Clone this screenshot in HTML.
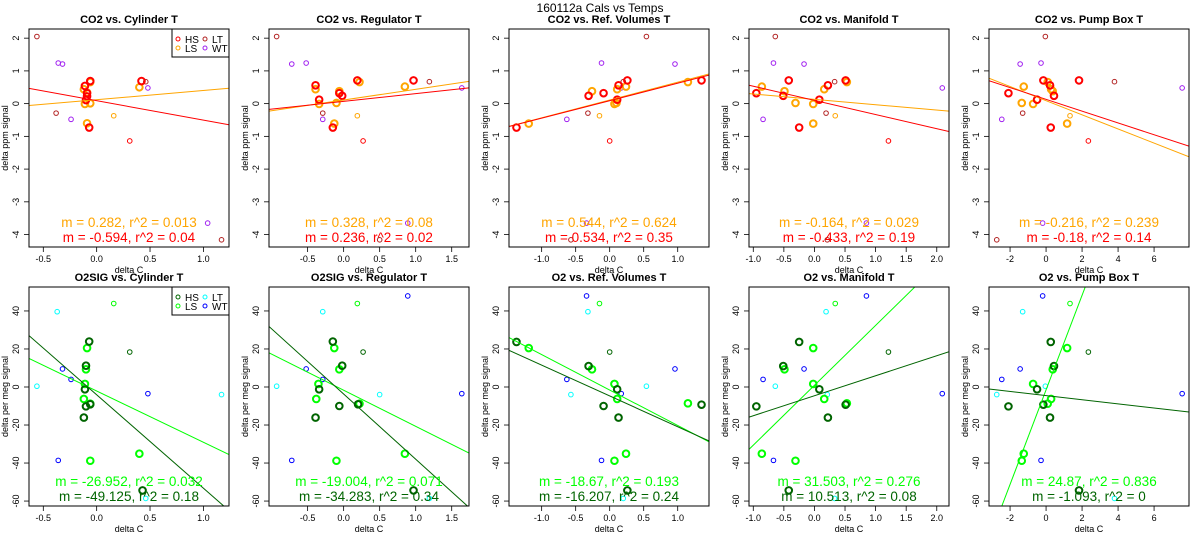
<!DOCTYPE html>
<html><head><meta charset="utf-8"><style>
body{margin:0;background:#fff;}
svg{display:block;font-family:"Liberation Sans",sans-serif;}
</style></head><body>
<svg id="chart" width="1200" height="550" viewBox="0 0 1200 550" xmlns="http://www.w3.org/2000/svg">
<rect x="0" y="0" width="1200" height="550" fill="#fff"/>
<text x="600" y="12" text-anchor="middle" font-size="12">160112a   Cals vs Temps</text>
</svg>
<script>
const titles = ["CO2 vs. Cylinder T","CO2 vs. Regulator T","CO2 vs. Ref. Volumes T","CO2 vs. Manifold T","CO2 vs. Pump Box T",
"O2SIG vs. Cylinder T","O2SIG vs. Regulator T","O2 vs. Ref. Volumes T","O2 vs. Manifold T","O2 vs. Pump Box T"];
const xRanges = [[-0.634,1.24],[-1.036,1.74],[-1.48,1.46],[-1.07,2.2],[-3.17,7.94]];
const xTicks = [[-0.5,0,0.5,1.0],[-0.5,0,0.5,1.0,1.5],[-1.0,-0.5,0,0.5,1.0],[-1.0,-0.5,0,0.5,1.0,1.5,2.0],[-2,0,2,4,6]];
const xTickLabels = [["-0.5","0.0","0.5","1.0"],["-0.5","0.0","0.5","1.0","1.5"],["-1.0","-0.5","0.0","0.5","1.0"],["-1.0","-0.5","0.0","0.5","1.0","1.5","2.0"],["-2","0","2","4","6"]];
const yRangeTop = [-4.38,2.28];
const yRangeBottom = [-62.6,52.6];
const yTicksTop = [-4,-3,-2,-1,0,1,2];
const yTicksBottom = [-60,-40,-20,0,20,40];

const hsX = [
[-0.11,-0.06,0.42,-0.09,-0.09,-0.10,-0.07],
[-0.39,-0.34,-0.15,-0.06,-0.02,0.19,0.97],
[-1.37,-0.31,-0.09,0.11,0.13,0.26,1.35],
[-0.95,-0.51,-0.42,-0.25,0.08,0.22,0.51],
[-2.09,-0.5,-0.15,0.22,0.44,0.26,1.83],
[-0.07,-0.10,-0.11,-0.06,-0.10,-0.12,0.43],
[-0.15,-0.02,-0.34,0.20,-0.06,-0.39,0.97],
[-1.37,-0.31,0.11,1.35,-0.09,0.13,0.26],
[-0.95,-0.51,-0.25,0.08,0.22,0.51,-0.42],
[-2.09,-0.5,-0.15,0.22,0.44,0.26,1.83]];
const hsY = [
[0.54,0.69,0.69,0.32,0.22,0.11,-0.73],
[0.56,0.12,-0.73,0.32,0.24,0.71,0.71],
[-0.73,0.24,0.32,0.12,0.56,0.71,0.71],
[0.32,0.24,0.71,-0.73,0.12,0.56,0.71],
[0.32,0.12,0.71,0.56,0.24,-0.73,0.71],
[23.9,11.2,-1.2,-9.1,-10.2,-16.1,-54.4],
[23.9,11.2,-1.2,-9.1,-10.0,-16.1,-54.4],
[23.7,11,-1.2,-9.3,-10,-16.1,-54.4],
[-10.2,11,23.7,-1.2,-16.1,-9.3,-54.4],
[-10.2,-1.2,-9.3,-16.1,11,23.7,-54.4]];
const lsX = [
[-0.06,-0.12,-0.09,0.40,-0.11,-0.06,-0.09],
[-0.39,-0.34,-0.10,-0.06,0.22,0.85,-0.13],
[-1.19,-0.26,0.07,0.11,0.24,1.15,0.10],
[-0.86,-0.49,-0.31,-0.02,-0.02,0.16,0.53],
[-1.24,-1.35,-0.72,0.09,0.28,0.37,1.17],
[-0.09,-0.10,-0.11,-0.12,-0.06,0.40,-0.06],
[-0.13,-0.06,-0.35,-0.38,0.22,0.85,-0.10],
[-1.19,-0.26,0.07,0.11,1.15,0.24,0.07],
[-0.02,-0.49,-0.02,0.16,0.53,-0.86,-0.31],
[1.17,0.37,-0.72,0.28,0.09,-1.24,-1.35]];
const lsY = [
[0.66,0.44,0.34,0.50,-0.01,0.01,-0.60],
[0.44,-0.01,0.02,0.38,0.66,0.52,-0.61],
[-0.61,0.38,-0.01,0.44,0.52,0.66,0.02],
[0.52,0.38,0.02,-0.01,-0.61,0.44,0.66],
[0.52,0.02,-0.01,0.66,0.44,0.38,-0.61],
[20.5,9.3,1.6,-6.3,-8.8,-35.1,-38.8],
[20.5,9.3,1.6,-6.3,-8.8,-35.1,-38.8],
[20.5,9.3,1.6,-6.3,-8.6,-35.1,-38.8],
[20.5,9.3,1.6,-6.3,-8.6,-35.1,-38.8],
[20.5,9.3,1.6,-6.3,-8.8,-35.1,-38.8]];
const ltX = [
[-0.56,-0.38,0.46,1.17],[-0.93,-0.29,1.19,0.50],[0.54,-0.32,0.2,-0.57],[-0.64,0.19,0.33,0.21],[-0.04,-1.3,3.8,-2.74],
[-0.56,-0.37,0.46,1.17],[-0.93,-0.29,1.19,0.5],[0.54,-0.32,0.2,-0.57],[-0.64,0.19,0.33,0.21],[-0.04,-1.3,3.8,-2.74]];
const ltYTop = [2.05,-0.29,0.67,-4.16];
const ltYBottom = [0.4,39.6,-58.6,-4];
const wtX = [
[-0.36,-0.32,-0.24,0.48,1.04],[-0.52,-0.72,-0.29,1.64,0.89],[-0.12,0.96,-0.63,0.17,-0.34],[-0.67,-0.17,-0.84,2.09,0.85],[-0.28,-1.44,-2.46,7.56,-0.19],
[-0.36,-0.32,-0.24,0.48,null],[-0.72,-0.52,-0.29,1.64,0.89],[-0.12,0.96,-0.63,0.17,-0.34],[-0.67,-0.17,-0.84,2.09,0.85],[-0.28,-1.44,-2.46,7.56,-0.19]];
const wtYTop = [1.24,1.21,-0.48,0.48,-3.65];
const wtYBottom = [-38.6,9.5,4,-3.5,47.9];
const smallHsX = [0.31,0.27,0.0,1.21,2.35];
const smallLsX = [0.16,0.19,-0.15,0.34,1.33];
const smallHsY = [-1.14,18.4];
const smallLsY = [-0.37,43.9];
const hsSlope = [-0.594,0.236,0.534,-0.433,-0.18,-49.125,-34.283,-16.207,10.513,-1.093];
const hsIntercept = [0.09,0.07,0.09,0.10,0.13,-4.1,-3.7,-4.7,-4.6,-4.5];
const lsSlope = [0.282,0.328,0.544,-0.164,-0.216,-26.952,-19.004,-18.67,31.503,24.87];
const lsIntercept = [0.12,0.11,0.11,0.13,0.09,-2.1,-1.7,-1.6,0.9,-1.5];
const lsLabels = ["m = 0.282, r^2 = 0.013","m = 0.328, r^2 = 0.08","m = 0.544, r^2 = 0.624","m = -0.164, r^2 = 0.029","m = -0.216, r^2 = 0.239",
"m = -26.952, r^2 = 0.032","m = -19.004, r^2 = 0.071","m = -18.67, r^2 = 0.193","m = 31.503, r^2 = 0.276","m = 24.87, r^2 = 0.836"];
const hsLabels = ["m = -0.594, r^2 = 0.04","m = 0.236, r^2 = 0.02","m = 0.534, r^2 = 0.35","m = -0.433, r^2 = 0.19","m = -0.18, r^2 = 0.14",
"m = -49.125, r^2 = 0.18","m = -34.283, r^2 = 0.34","m = -16.207, r^2 = 0.24","m = 10.513, r^2 = 0.08","m = -1.093, r^2 = 0"];

const NS = "http://www.w3.org/2000/svg";
const svg = document.getElementById('chart');
function mk(tag, attrs, parent){const e=document.createElementNS(NS,tag);for(const k in attrs)e.setAttribute(k,attrs[k]);(parent||svg).appendChild(e);return e;}

for(let p=0;p<10;p++){
  const col=p%5, bottom=p>=5;
  const L=240*col+29, R=L+200;
  const T=bottom?287:29, B=bottom?506:247;
  const xr=xRanges[col], yr=bottom?yRangeBottom:yRangeTop;
  const sx=v=>L+(v-xr[0])/(xr[1]-xr[0])*(R-L);
  const sy=v=>B-(v-yr[0])/(yr[1]-yr[0])*(B-T);
  const g=mk('g',{});
  
  
  const cp=mk('clipPath',{id:'cp'+p},g); mk('rect',{x:L,y:T,width:R-L,height:B-T},cp);
  const t=mk('text',{x:(L+R)/2,y:T-6,'text-anchor':'middle','font-size':11,'font-weight':'bold'},g); t.textContent=titles[p];
  
  
  // y axis
  const yt=bottom?yTicksBottom:yTicksTop;
  yt.forEach(v=>{mk('line',{x1:L-5,x2:L,y1:sy(v),y2:sy(v),stroke:'#000','stroke-width':0.8},g);
    const tl=mk('text',{x:0,y:0,'text-anchor':'middle','font-size':9,transform:`translate(${L-10},${sy(v)}) rotate(-90)`},g);tl.textContent=String(v);
    
    });
  const ya=mk('text',{x:0,y:0,'text-anchor':'middle','font-size':9,transform:`translate(${L-21},${(T+B)/2}) rotate(-90)`},g);
  ya.textContent=bottom?'delta per meg signal':'delta ppm signal';
  
  
  xTicks[col].forEach((v,i)=>{mk('line',{x1:sx(v),x2:sx(v),y1:B,y2:B+5,stroke:'#000','stroke-width':0.8},g);
    const tl=mk('text',{x:sx(v),y:B+15,'text-anchor':'middle','font-size':9},g);tl.textContent=xTickLabels[col][i];
    
    });
  const xa=mk('text',{x:(L+R)/2,y:B+26,'text-anchor':'middle','font-size':9},g);xa.textContent='delta C';
  
  
  const cHS=bottom?'#006400':'#ff0000', cLS=bottom?'#00ff00':'#ffa500', cLT=bottom?'#00ffff':'#b22222', cWT=bottom?'#0000ff':'#a020f0';
  const pg=mk('g',{'clip-path':`url(#cp${p})`},g);
  function pts(xs,ys,color,r,w,name){xs.forEach((x,i)=>{if(x===null)return;const c=mk('circle',{cx:sx(x),cy:sy(ys[i]),r:r,fill:'none',stroke:color,'stroke-width':w},pg);
    
    });}
  pts(ltX[p],bottom?ltYBottom:ltYTop,cLT,2.3,1,'lt-point');
  pts(wtX[p],bottom?wtYBottom:wtYTop,cWT,2.3,1,'wt-point');
  pts([smallHsX[col]],[smallHsY[bottom?1:0]],cHS,2.3,1,'hs-thin-point');
  pts([smallLsX[col]],[smallLsY[bottom?1:0]],cLS,2.3,1,'ls-thin-point');
  pts(lsX[p],lsY[p],cLS,3.3,2,'ls-point');
  pts(hsX[p],hsY[p],cHS,3.3,2,'hs-point');
  [[lsSlope,lsIntercept,cLS,'ls-fit-line'],[hsSlope,hsIntercept,cHS,'hs-fit-line']].forEach(([m,b,c,n])=>{
    const ln=mk('line',{x1:sx(xr[0]),y1:sy(m[p]*xr[0]+b[p]),x2:sx(xr[1]),y2:sy(m[p]*xr[1]+b[p]),stroke:c,'stroke-width':1},pg);
    
    });
  const a1=mk('text',{x:(L+R)/2,y:B-20,'text-anchor':'middle','font-size':13.5,fill:cLS},g);a1.textContent=lsLabels[p];
  
  
  const a2=mk('text',{x:(L+R)/2,y:B-5,'text-anchor':'middle','font-size':13.5,fill:cHS},g);a2.textContent=hsLabels[p];
  
  
  mk('rect',{x:L,y:T,width:R-L,height:B-T,fill:'none',stroke:'#000','stroke-width':1},g);
  if(col===0){
    const lg=mk('g',{},g);
    
    
    mk('rect',{x:172,y:T,width:57,height:28,fill:'#fff',stroke:'#000','stroke-width':1},lg);
    [['HS',cHS,178,T+10],['LS',cLS,178,T+19],['LT',cLT,205,T+10],['WT',cWT,205,T+19]].forEach(([s,c,x,y])=>{
      const e=mk('g',{},lg);
      
      
      mk('circle',{cx:x,cy:y,r:2,fill:'none',stroke:c,'stroke-width':1},e);
      const tx=mk('text',{x:x+7,y:y+4,'font-size':10},e);tx.textContent=s;});
  }
}
</script>
</body></html>
